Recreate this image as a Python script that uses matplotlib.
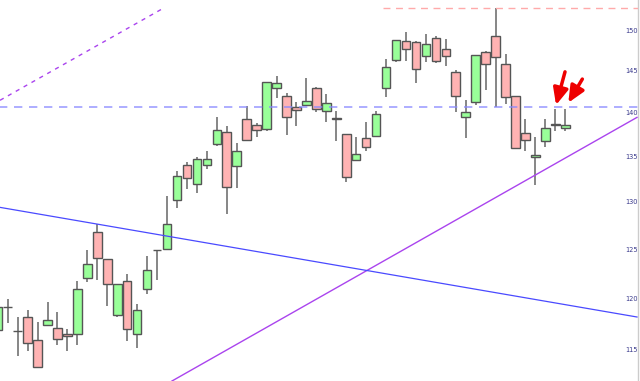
import numpy as np
from matplotlib import pyplot as plt
from matplotlib.ticker import NullLocator

plt.rcParams['font.family'] = 'DejaVu Sans'

# Daily candles (index -1 is the half hidden one on the left)
opens = [116.86, 119.11, 116.76, 118.13, 115.85, 117.32, 117.03, 116.50, 116.50, 122.00,
         126.76, 123.94, 118.30, 121.72, 116.44, 120.88, 124.90, 124.96, 130.20, 134.06,
         131.91, 134.03, 136.40, 137.84, 133.95, 139.26, 138.61, 138.11, 142.91, 142.00,
         140.73, 140.89, 142.91, 140.22, 139.44, 137.54, 134.65, 137.15, 137.38, 142.91,
         146.31, 148.69, 148.56, 146.77, 148.98, 147.63, 144.81, 139.49, 141.25, 147.33,
         149.26, 145.86, 141.96, 137.66, 134.97, 136.74, 138.78, 138.26]
highs = [119.31, 119.89, 118.16, 118.79, 117.64, 119.63, 118.59, 116.96, 121.75, 124.89,
         127.61, 124.02, 121.45, 122.44, 119.37, 124.31, 124.94, 130.61, 133.40, 134.39,
         134.91, 135.69, 139.52, 138.46, 136.58, 140.81, 138.87, 143.66, 144.41, 142.39,
         141.29, 144.10, 143.10, 142.23, 140.25, 137.58, 137.23, 138.92, 140.25, 146.40,
         148.83, 149.72, 148.60, 149.55, 149.30, 148.93, 145.12, 141.52, 146.97, 147.36,
         152.85, 147.09, 142.00, 139.26, 137.20, 139.26, 140.45, 140.45]
lows = [116.66, 117.59, 114.34, 114.81, 113.22, 117.25, 115.36, 114.84, 115.36, 121.59,
        121.80, 119.21, 118.13, 115.78, 115.13, 120.37, 121.83, 124.90, 129.37, 131.38,
        131.01, 133.59, 136.24, 128.74, 131.56, 136.85, 137.27, 137.95, 141.76, 137.43,
        138.46, 140.81, 140.06, 138.92, 136.81, 132.15, 134.58, 135.60, 137.35, 141.91,
        146.07, 146.23, 143.50, 146.03, 145.95, 145.54, 140.06, 137.15, 140.96, 142.71,
        140.66, 141.08, 135.86, 135.69, 131.86, 136.06, 137.92, 137.87]
closes = [119.08, 119.11, 116.76, 115.56, 113.34, 117.84, 115.98, 116.24, 120.88, 123.49,
          124.04, 121.39, 121.39, 116.99, 118.79, 122.82, 124.86, 127.64, 132.85, 132.59,
          134.75, 134.70, 138.00, 131.60, 135.66, 136.89, 138.00, 143.62, 143.50, 139.52,
          140.34, 141.44, 140.45, 141.17, 139.26, 132.74, 135.29, 136.05, 139.83, 145.52,
          148.81, 147.63, 145.21, 148.24, 146.23, 146.77, 141.96, 140.06, 146.93, 145.86,
          146.65, 141.84, 135.97, 136.89, 135.24, 138.23, 138.58, 138.55]

# Drawn levels and trend lines: (bar index, price) end points
resistance_level = 152.85
resistance_start = 37.7
support_level = 140.68
upper_dash_x = [-0.77, 15.63]
upper_dash_y = [141.49, 152.76]
rising_x = [16.5, 63.2]
rising_y = [112.0, 139.49]
falling_x = [-0.77, 63.2]
falling_y = [129.42, 118.13]

# Arrows: (tail index, tail price, head index, head price)
arrows = [
    (55.97, 144.88, 55.07, 140.93),
    (57.71, 144.01, 56.30, 141.20),
]

price_ticks = [115, 120, 125, 130, 135, 140, 145, 150]

fig = plt.figure(figsize=(6.4, 3.81), dpi=100)
ax = fig.add_axes([0, 0, 638 / 640, 1])

x = np.arange(len(opens)) - 1
o = np.array(opens)
c = np.array(closes)
up = c >= o

# Wicks then bodies
ax.vlines(x, lows, highs, color='#666666', linewidth=1.1, zorder=1)
ax.bar(x[up], (c - o)[up], bottom=o[up], width=0.86, color='#99ff99',
       edgecolor='#555555', linewidth=1.0, zorder=2)
ax.bar(x[~up], (c - o)[~up], bottom=o[~up], width=0.86, color='#ffb3b3',
       edgecolor='#555555', linewidth=1.0, zorder=2)

# Levels
ax.plot([resistance_start, 64], [resistance_level] * 2, color='#ffaaaa',
        linewidth=1.0, dashes=(5, 4), zorder=3)
ax.plot([-2, 64], [support_level] * 2, color='#8888ff', linewidth=1.2,
        dashes=(5, 4), alpha=0.8, zorder=3)

# Trend lines
ax.plot(upper_dash_x, upper_dash_y, color='#aa44ee', linewidth=1.0,
        dashes=(3, 3.5), zorder=3)
ax.plot(rising_x, rising_y, color='#aa44ee', linewidth=1.0, zorder=3)
ax.plot(falling_x, falling_y, color='#4a4aff', linewidth=0.9, zorder=3)

for x0, y0, x1, y1 in arrows:
    ax.annotate('', xy=(x1, y1), xytext=(x0, y0),
                arrowprops=dict(arrowstyle='-|>,head_length=1.0,head_width=0.45',
                                color='#ee0000', linewidth=2.5, shrinkA=0, shrinkB=0),
                zorder=4)

# Axes
ax.set_yscale('log')
ax.set_xlim(-0.773, 63.3)
ax.set_ylim(112.0, 153.81)
ax.yaxis.tick_right()
ax.yaxis.set_minor_locator(NullLocator())
ax.set_yticks(price_ticks)
ax.set_yticklabels([str(t) for t in price_ticks])
ax.tick_params(axis='y', direction='in', length=0, pad=-9.4, labelsize=4.8,
               labelcolor='#3a3a8c')
ax.set_xticks([])
for side in ('left', 'top', 'bottom'):
    ax.spines[side].set_visible(False)
ax.spines['right'].set_color('#cccccc')
ax.spines['right'].set_linewidth(1.0)

fig.savefig('out.png', dpi=100)
